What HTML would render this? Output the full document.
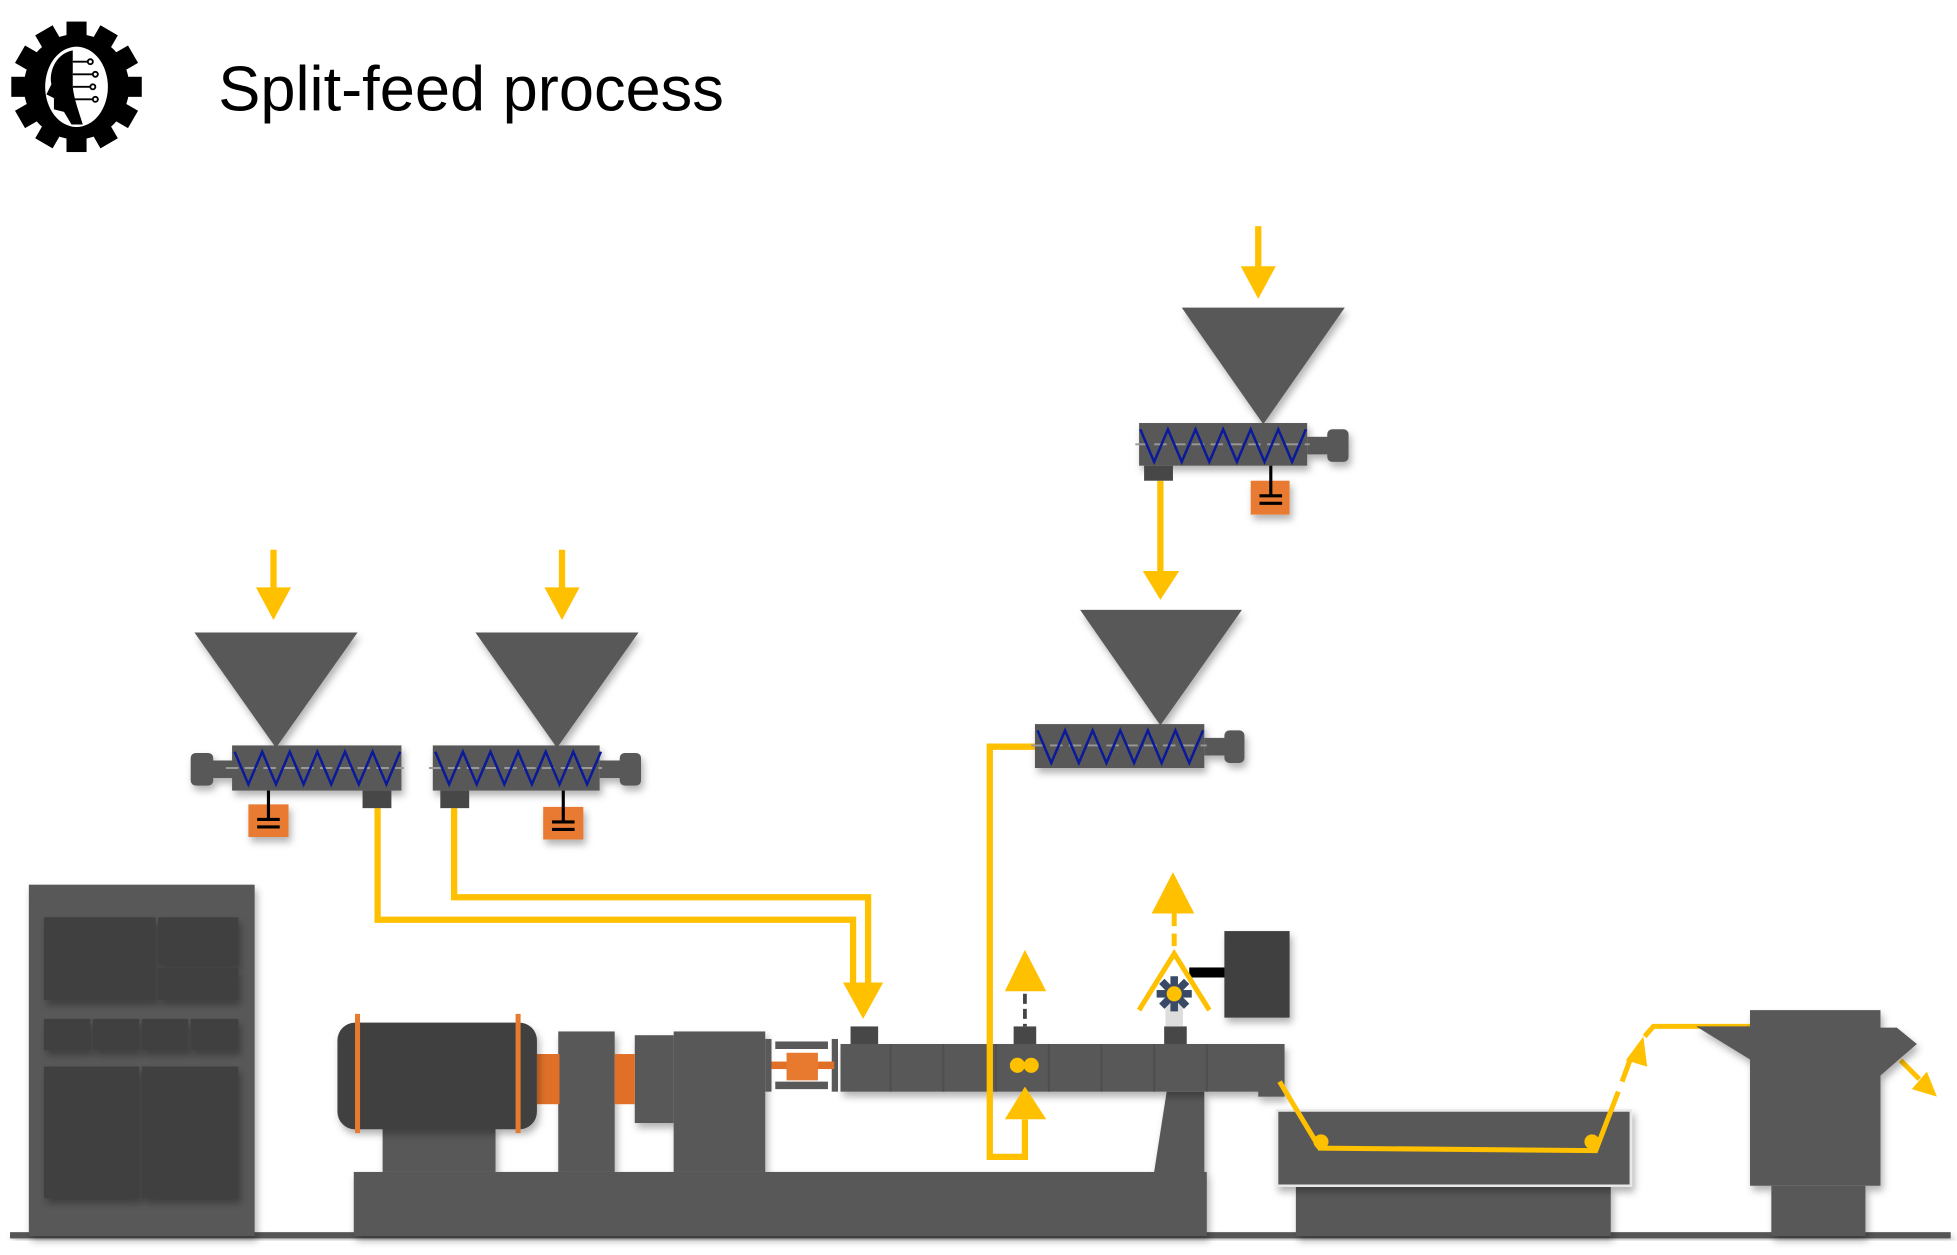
<!DOCTYPE html>
<html><head><meta charset="utf-8"><style>
html,body{margin:0;padding:0;background:#fff;width:1957px;height:1255px;overflow:hidden}
svg{display:block}
</style></head><body>
<svg width="1957" height="1255" viewBox="0 0 1560 1000" xmlns="http://www.w3.org/2000/svg">
<defs>
<filter id="sh" x="-10%" y="-10%" width="130%" height="140%"><feDropShadow dx="2" dy="4" stdDeviation="3" flood-color="#000" flood-opacity="0.3"/></filter>
<g id="zz"><polyline points="0,5 11,31 22,5 33,31 44,5 55,31 66,5 77,31 88,5 99,31 110,5 121,31 132,5" fill="none" stroke="#0a1a9a" stroke-width="2"/></g>
</defs>
<!-- logo -->
<g transform="translate(61,69)">
<g fill="#000">
<circle r="42"/>
<g id="t"><rect x="-8" y="-52" width="16" height="14"/></g>
<use href="#t" transform="rotate(30)"/><use href="#t" transform="rotate(60)"/><use href="#t" transform="rotate(90)"/><use href="#t" transform="rotate(120)"/><use href="#t" transform="rotate(150)"/><use href="#t" transform="rotate(180)"/><use href="#t" transform="rotate(210)"/><use href="#t" transform="rotate(240)"/><use href="#t" transform="rotate(270)"/><use href="#t" transform="rotate(300)"/><use href="#t" transform="rotate(330)"/>
</g>
<ellipse rx="25" ry="32" fill="#fff"/>
<path d="M-3,-29 C-18,-26 -22,-10 -20,-2 L-24,6 L-18,9 L-18,18 L-10,20 L-4,30 L5,30 C2,20 -2,10 -3,0 Z" fill="#000"/>
<g stroke="#000" stroke-width="1.5" fill="#fff"><line x1="-3" y1="-20" x2="10" y2="-20"/><line x1="-3" y1="-10" x2="14" y2="-10"/><line x1="-3" y1="0" x2="12" y2="0"/><line x1="-3" y1="10" x2="14" y2="10"/><circle cx="11" cy="-20" r="2"/><circle cx="15" cy="-10" r="2"/><circle cx="13" cy="0" r="2"/><circle cx="15" cy="10" r="2"/></g>
</g>
<text x="174" y="88" font-family="Liberation Sans, sans-serif" font-size="50" fill="#000" textLength="403" lengthAdjust="spacingAndGlyphs">Split-feed process</text>

<!-- ground -->
<rect x="8" y="982" width="1547" height="5" fill="#555" filter="url(#sh)"/>

<!-- cabinet -->
<g filter="url(#sh)">
<rect x="23" y="705" width="180" height="280" fill="#595959"/>
</g>
<g fill="#3f3f3f" filter="url(#sh)">
<rect x="35" y="731" width="89" height="66"/><rect x="126" y="731" width="64" height="38"/><rect x="126" y="771" width="64" height="26"/>
<rect x="35" y="812" width="37" height="25"/><rect x="74" y="812" width="37" height="25"/><rect x="113" y="812" width="37" height="25"/><rect x="152" y="812" width="38" height="25"/>
<rect x="35" y="850" width="76" height="105"/><rect x="113" y="850" width="77" height="105"/>
</g>

<!-- extruder base & drive -->
<g fill="#595959" filter="url(#sh)">
<rect x="282" y="934" width="680" height="51"/>
<rect x="305" y="898" width="90" height="36"/>
<rect x="445" y="822" width="45" height="112"/>
<rect x="506" y="825" width="31" height="70"/>
<rect x="537" y="822" width="73" height="112"/>
<polygon points="930,870 960,870 960,934 920,934"/>
</g>
<rect x="428" y="840" width="18" height="40" fill="#e07028"/>
<rect x="490" y="840" width="16" height="40" fill="#e07028"/>
<rect x="269" y="815" width="159" height="85" rx="14" fill="#3f3f3f" filter="url(#sh)"/>
<rect x="283" y="808" width="4" height="95" fill="#e87a30"/>
<rect x="411" y="808" width="4" height="95" fill="#e87a30"/>
<!-- coupling -->
<g fill="#595959">
<rect x="610" y="828" width="5" height="42"/><rect x="663" y="828" width="5" height="42"/>
<rect x="618" y="830" width="42" height="6"/><rect x="618" y="862" width="42" height="6"/>
</g>
<rect x="615" y="846" width="50" height="6" fill="#e07028"/>
<rect x="627" y="839" width="25" height="22" fill="#e87a30"/>

<!-- barrel -->
<g filter="url(#sh)">
<rect x="670" y="832" width="350" height="38" fill="#595959"/>
<rect x="1003" y="832" width="21" height="42" fill="#595959"/>
</g>
<g stroke="#4e4e4e" stroke-width="1.5"><line x1="710" y1="832" x2="710" y2="870"/><line x1="752" y1="832" x2="752" y2="870"/><line x1="794" y1="832" x2="794" y2="870"/><line x1="836" y1="832" x2="836" y2="870"/><line x1="878" y1="832" x2="878" y2="870"/><line x1="920" y1="832" x2="920" y2="870"/><line x1="962" y1="832" x2="962" y2="870"/></g>
<g fill="#474747"><rect x="678" y="818" width="22" height="14"/><rect x="808" y="818" width="18" height="14"/><rect x="928" y="818" width="18" height="14"/></g>
<circle cx="811" cy="849" r="6" fill="#ffc000"/><circle cx="822" cy="849" r="6" fill="#ffc000"/>

<!-- vent 1 -->
<line x1="817" y1="792" x2="817" y2="818" stroke="#444" stroke-width="3" stroke-dasharray="8,4"/>
<polygon points="801,790 834,790 817,757" fill="#ffc000"/>
<polygon points="801,892 834,892 817,866" fill="#ffc000"/>
<!-- vent 2 -->
<line x1="936" y1="728" x2="936" y2="762" stroke="#ffc000" stroke-width="4" stroke-dasharray="10,6"/>
<polygon points="918,728 952,728 935,695" fill="#ffc000"/>
<rect x="929" y="800" width="14" height="18" fill="#ddd"/>
<rect x="948" y="771" width="30" height="8" fill="#000"/>
<rect x="976" y="742" width="52" height="69" fill="#3f3f3f" filter="url(#sh)"/>
<g transform="translate(936,792)" fill="#3a4a66"><rect x="-3" y="-14" width="6" height="9"/><rect x="-3" y="5" width="6" height="9"/><rect x="-14" y="-3" width="9" height="6"/><rect x="5" y="-3" width="9" height="6"/><rect x="-3" y="-14" width="6" height="9" transform="rotate(45)"/><rect x="-3" y="5" width="6" height="9" transform="rotate(45)"/><rect x="-14" y="-3" width="9" height="6" transform="rotate(45)"/><rect x="5" y="-3" width="9" height="6" transform="rotate(45)"/></g>
<circle cx="936" cy="792" r="6" fill="#ffc000"/>
<polyline points="908,805 936,760 964,805" fill="none" stroke="#ffc000" stroke-width="4"/>

<!-- feed lines -->
<g fill="none" stroke="#ffc000" stroke-width="5">
<polyline points="301,644 301,733 680,733 680,785"/>
<polyline points="362,644 362,715 692,715 692,785"/>
<polyline points="817,892 817,922 789,922 789,595 828,595"/>
<line x1="925" y1="383" x2="925" y2="458"/>
<line x1="218" y1="438" x2="218" y2="470"/>
<line x1="448" y1="438" x2="448" y2="470"/>
<line x1="1003" y1="180" x2="1003" y2="214"/>
</g>
<polygon points="672,783 704,783 688,812" fill="#ffc000"/>
<polygon points="911,455 940,455 925,478" fill="#ffc000"/>
<polygon points="204,468 232,468 218,494" fill="#ffc000"/>
<polygon points="434,468 462,468 448,494" fill="#ffc000"/>
<polygon points="989,212 1017,212 1003,238" fill="#ffc000"/>

<!-- feeders -->
<g fill="#595959" filter="url(#sh)">
<polygon points="155,504 285,504 220,596"/>
<polygon points="379,504 509,504 444,596"/>
<polygon points="861,486 990,486 925,578"/>
<polygon points="942,245 1072,245 1007,338"/>
<rect x="185" y="594" width="135" height="36"/><rect x="168" y="606" width="18" height="14"/><rect x="152" y="600" width="18" height="26" rx="4"/>
<rect x="345" y="594" width="133" height="36"/><rect x="478" y="606" width="18" height="14"/><rect x="494" y="600" width="17" height="26" rx="4"/>
<rect x="825" y="577" width="135" height="35"/><rect x="960" y="588" width="18" height="14"/><rect x="976" y="582" width="16" height="26" rx="4"/>
<rect x="908" y="337" width="134" height="34"/><rect x="1042" y="348" width="18" height="14"/><rect x="1058" y="342" width="17" height="26" rx="4"/>
</g>
<g fill="#474747"><rect x="289" y="630" width="23" height="14"/><rect x="351" y="630" width="23" height="14"/><rect x="912" y="371" width="23" height="12"/></g>
<g stroke="#999" stroke-width="1.5" stroke-dasharray="10,5"><line x1="180" y1="612" x2="322" y2="612"/><line x1="342" y1="612" x2="480" y2="612"/><line x1="822" y1="594" x2="962" y2="594"/><line x1="905" y1="354" x2="1044" y2="354"/></g>
<use href="#zz" transform="translate(187,594)"/>
<use href="#zz" transform="translate(347,594)"/>
<use href="#zz" transform="translate(827,577)"/>
<use href="#zz" transform="translate(909,337)"/>
<!-- orange motors -->
<g fill="#e87a30" filter="url(#sh)"><rect x="198" y="641" width="32" height="26"/><rect x="433" y="643" width="32" height="26"/><rect x="997" y="383" width="31" height="27"/></g>
<g stroke="#000" stroke-width="2.5">
<line x1="214" y1="630" x2="214" y2="652"/><line x1="205" y1="653" x2="223" y2="653"/><line x1="205" y1="659" x2="223" y2="659"/>
<line x1="449" y1="630" x2="449" y2="654"/><line x1="440" y1="655" x2="458" y2="655"/><line x1="440" y1="661" x2="458" y2="661"/>
<line x1="1013" y1="371" x2="1013" y2="394"/><line x1="1004" y1="395" x2="1022" y2="395"/><line x1="1004" y1="401" x2="1022" y2="401"/>
</g>

<!-- water bath -->
<rect x="1033" y="946" width="251" height="39" fill="#595959" filter="url(#sh)"/>
<rect x="1018" y="885" width="282" height="60" fill="#595959" stroke="#e8e8e8" stroke-width="2" filter="url(#sh)"/>
<g fill="none" stroke="#ffc000" stroke-width="4">
<polyline points="1020,862 1052,915 1272,917 1290,870"/>
<line x1="1293" y1="862" x2="1300" y2="843"/>
<polyline points="1311,826 1318,818 1395,818"/>
<line x1="1515" y1="845" x2="1530" y2="860"/>
</g>
<polygon points="1296,845 1310,826 1313,850" fill="#ffc000"/>
<circle cx="1053" cy="910" r="6" fill="#ffc000"/>
<circle cx="1269" cy="910" r="6" fill="#ffc000"/>
<polygon points="1524,868 1544,874 1536,854" fill="#ffc000"/>

<!-- pelletizer -->
<g fill="#595959" filter="url(#sh)">
<rect x="1412" y="945" width="75" height="40"/>
<rect x="1395" y="805" width="104" height="140"/>
<polygon points="1352,818 1396,818 1396,845"/>
<polygon points="1498,819 1512,819 1528,832 1498,858"/>
</g>
</svg>
</body></html>
